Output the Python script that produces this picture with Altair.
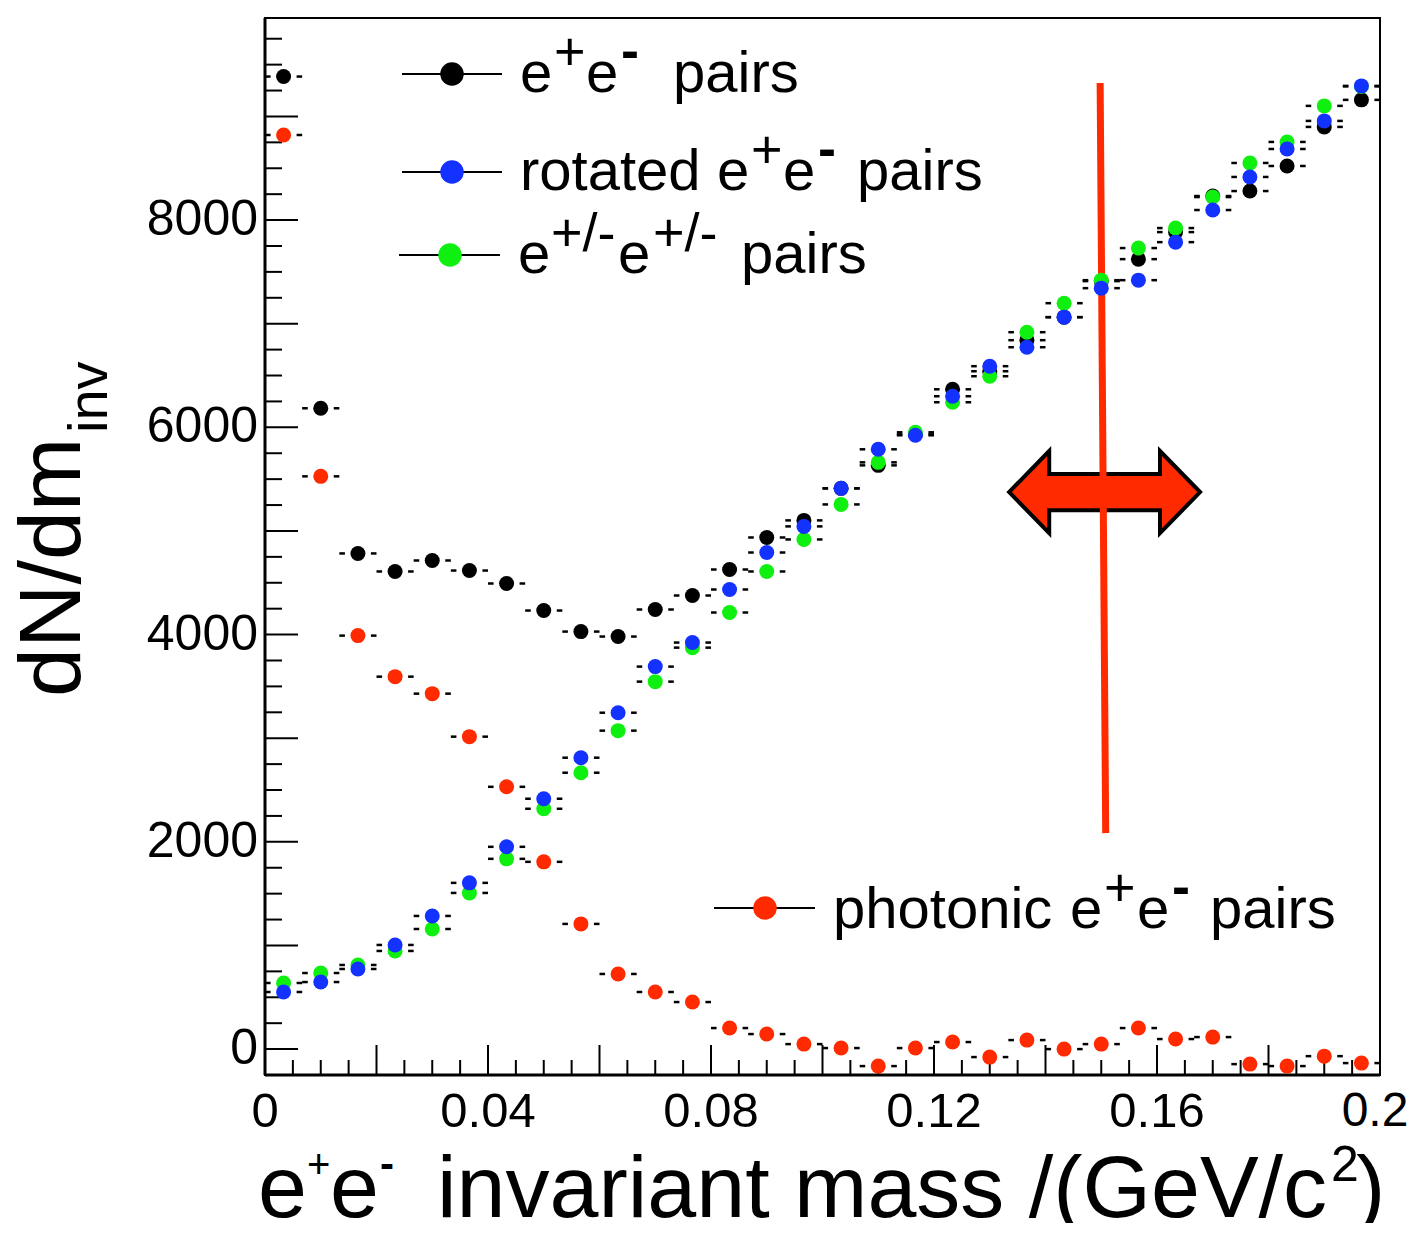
import altair as alt
import numpy as np
import pandas as pd

FONT = "Liberation Sans"

# ---------------- data ----------------
bin_edges = np.linspace(0.0, 0.2, 31)          # 30 bins of 0.00667 GeV/c^2
mass = (bin_edges[:-1] + bin_edges[1:]) / 2

ee_pairs = [9385, 6184, 4783, 4609, 4715, 4618, 4493, 4232, 4029, 3981,
            4242, 4377, 4628, 4937, 5102, 5411, 5633, 5932, 6367, 6541,
            6841, 7063, 7411, 7623, 7884, 8232, 8280, 8522, 8899, 9160]
rotated = [551, 647, 773, 1005, 1285, 1604, 1952, 2416, 2812, 3246,
           3691, 3923, 4435, 4792, 5044, 5411, 5788, 5923, 6300, 6590,
           6773, 7063, 7343, 7420, 7787, 8097, 8416, 8686, 8957, 9295]
like_sign = [638, 734, 812, 947, 1159, 1507, 1836, 2319, 2667, 3073,
             3546, 3874, 4213, 4609, 4918, 5256, 5662, 5952, 6242, 6493,
             6918, 7198, 7420, 7730, 7923, 8222, 8551, 8754, 9102, 9290]
photonic = [8821, 5527, 3990, 3594, 3430, 3015, 2531, 1807, 1208, 725,
            551, 454, 203, 145, 48, 10, -164, 10, 68, -77,
            87, 0, 48, 203, 97, 116, -145, -164, -68, -135]

x_labels = [0, 0.04, 0.08, 0.12, 0.16]
x_label_text = ["0", "0.04", "0.08", "0.12", "0.16"]
x_last_label = {"v": [0.2], "t": ["0.2"]}
y_labels = [0, 2000, 4000, 6000, 8000]
y_label_text = ["0", "2000", "4000", "6000", "8000"]

cut_line = {"x": [0.1498], "y": [9322], "x2": [0.1508], "y2": [2084]}
arrow_pos = {"x": [0.1506], "y": [5375]}

# ---------------- styles ----------------
BLACK, BLUE, GREEN, RED = "#000000", "#1432ff", "#10f010", "#ff2a00"
W, H = 1115, 1057            # plot area
X0, Y0 = 265, 18             # page position of plot's top-left corner
XS = alt.Scale(domain=[0, 0.2], nice=False, zero=False)
YS = alt.Scale(domain=[-250, 9950], nice=False, zero=False)
GAP = 13 / W * 0.2           # gap of the x-error bar around the marker

one = pd.DataFrame({"k": [0]})


def txt(s, px, py, size, angle=0, weight="normal"):
    kw = dict(text=s, font=FONT, fontSize=size, align="left",
              baseline="alphabetic", color="black", fontWeight=weight)
    if angle:
        kw["angle"] = angle
    return alt.Chart(one).mark_text(**kw).encode(
        x=alt.value(px - X0), y=alt.value(py - Y0))


def X(f):
    return alt.X(f, scale=XS, axis=None)


def Y(f):
    return alt.Y(f, scale=YS, axis=None)


layers = []

# ---- inward ticks ----
ymaj = pd.DataFrame({"v": np.arange(0, 9001, 1000)})
ymin = pd.DataFrame({"v": [v for v in np.arange(-250, 9950, 250) if v % 1000 != 0]})
xmaj = pd.DataFrame({"v": np.round(np.arange(0.02, 0.19, 0.02), 4)})
xmin = pd.DataFrame({"v": [v for v in np.round(np.arange(0.005, 0.2, 0.005), 4)
                           if abs(v / 0.02 - round(v / 0.02)) > 1e-6]})

layers.append(alt.Chart(ymaj).mark_rule(color="black", strokeWidth=2).encode(
    y=Y("v:Q"), x=alt.value(0), x2=alt.value(33)))
layers.append(alt.Chart(ymin).mark_rule(color="black", strokeWidth=2).encode(
    y=Y("v:Q"), x=alt.value(0), x2=alt.value(17)))
layers.append(alt.Chart(xmaj).mark_rule(color="black", strokeWidth=2).encode(
    x=X("v:Q"), y=alt.value(H), y2=alt.value(H - 30)))
layers.append(alt.Chart(xmin).mark_rule(color="black", strokeWidth=2).encode(
    x=X("v:Q"), y=alt.value(H), y2=alt.value(H - 15)))

# ---- axis lines (thicker left / bottom) ----
layers.append(alt.Chart(one).mark_rule(color="black", strokeWidth=3).encode(
    x=alt.value(0), y=alt.value(0), y2=alt.value(H)))
layers.append(alt.Chart(one).mark_rule(color="black", strokeWidth=3).encode(
    x=alt.value(0), x2=alt.value(W), y=alt.value(H)))

# ---- tick labels ----
ylab = pd.DataFrame({"v": y_labels, "t": y_label_text})
xlab = pd.DataFrame({"v": x_labels, "t": x_label_text})
layers.append(alt.Chart(ylab).mark_text(font=FONT, fontSize=50, align="right",
                                        baseline="middle", color="black").encode(
    y=Y("v:Q"), x=alt.value(-7), text="t:N"))
layers.append(alt.Chart(xlab).mark_text(font=FONT, fontSize=49, align="center",
                                        baseline="top", color="black").encode(
    x=X("v:Q"), y=alt.value(H + 13), text="t:N"))
# last label nudged slightly so it stays inside the page
layers.append(alt.Chart(pd.DataFrame(x_last_label)).mark_text(
    font=FONT, fontSize=48, align="center", baseline="top", color="black", dx=-5).encode(
    x=X("v:Q"), y=alt.value(H + 13), text="t:N"))

# ---- annotation: arrow and cut line ----
ARROW = ("M -1 0 L -0.58 -0.43 L -0.58 -0.19 L 0.58 -0.19 L 0.58 -0.43 L 1 0 "
         "L 0.58 0.43 L 0.58 0.19 L -0.58 0.19 L -0.58 0.43 Z")
layers.append(alt.Chart(pd.DataFrame(arrow_pos)).mark_point(
    shape=ARROW, size=191 ** 2, filled=True, fill=RED, stroke="black",
    strokeWidth=4, strokeJoin="miter", opacity=1).encode(x=X("x:Q"), y=Y("y:Q")))
layers.append(alt.Chart(pd.DataFrame(cut_line)).mark_rule(color=RED, strokeWidth=7).encode(
    x=X("x:Q"), y=Y("y:Q"), x2="x2:Q", y2="y2:Q"))

# ---- data series ----
for vals, col in [(ee_pairs, BLACK), (like_sign, GREEN), (rotated, BLUE), (photonic, RED)]:
    df = pd.DataFrame({"m": mass, "v": vals, "lo": bin_edges[:-1], "hi": bin_edges[1:]})
    df["l2"] = df["m"] - GAP
    df["r1"] = df["m"] + GAP
    layers.append(alt.Chart(df).mark_rule(color="black", strokeWidth=2.5).encode(
        x=X("lo:Q"), x2="l2:Q", y=Y("v:Q")))
    layers.append(alt.Chart(df).mark_rule(color="black", strokeWidth=2.5).encode(
        x=X("r1:Q"), x2="hi:Q", y=Y("v:Q")))
    layers.append(alt.Chart(df).mark_circle(size=225, color=col, opacity=1).encode(
        x=X("m:Q"), y=Y("v:Q")))

# ---- legend ----
for (x1, x2, xm, ym, col) in [(402, 502, 452, 74, BLACK), (402, 502, 452, 172, BLUE),
                              (399, 500, 450, 255, GREEN), (714, 815, 765, 908, RED)]:
    layers.append(alt.Chart(one).mark_rule(color="black", strokeWidth=2).encode(
        x=alt.value(x1 - X0), x2=alt.value(x2 - X0), y=alt.value(ym - Y0)))
    layers.append(alt.Chart(one).mark_circle(size=550, color=col, opacity=1).encode(
        x=alt.value(xm - X0), y=alt.value(ym - Y0)))

LF, SF = 58, 54
# e+e-  pairs
layers += [txt("e", 520, 92, LF), txt("+", 554, 70, SF), txt("e", 586, 92, LF),
           txt("-", 621, 69, SF, weight="bold"), txt("pairs", 673, 92, LF)]
# rotated e+e- pairs
layers += [txt("rotated", 520, 190, LF), txt("e", 717, 190, LF), txt("+", 751, 168, SF),
           txt("e", 783, 190, LF), txt("-", 818, 167, SF, weight="bold"),
           txt("pairs", 857, 190, LF)]
# e+/-e+/- pairs
layers += [txt("e", 518, 273, LF), txt("+/-", 551, 251, SF), txt("e", 618, 273, LF),
           txt("+/-", 653, 251, SF), txt("pairs", 741, 273, LF)]
# photonic e+e- pairs
layers += [txt("photonic", 833, 928, LF), txt("e", 1070, 928, LF), txt("+", 1104, 906, SF),
           txt("e", 1137, 928, LF), txt("-", 1172, 905, SF, weight="bold"),
           txt("pairs", 1210, 928, LF)]

# ---- axis titles ----
TF = 88
layers += [txt("e", 258, 1217, TF), txt("+", 307, 1178, 40), txt("e", 330, 1217, TF),
           txt("-", 380, 1178, 42, weight="bold"),
           txt("invariant mass /(GeV/c", 437, 1217, TF), txt("2", 1331, 1181, 50),
           txt(")", 1356, 1217, TF)]
layers += [txt("dN/dm", 80, 697, TF, angle=270), txt("inv", 107, 433, 56, angle=270)]

chart = alt.layer(*layers).properties(
    width=W, height=H,
    padding={"left": X0 - 8, "top": Y0 - 8, "right": 30, "bottom": 148},
    autosize=alt.AutoSizeParams(type="none"),
).configure_view(stroke="black", strokeWidth=2)

chart.save("out.html", embed_options={"renderer": "svg", "actions": False})
